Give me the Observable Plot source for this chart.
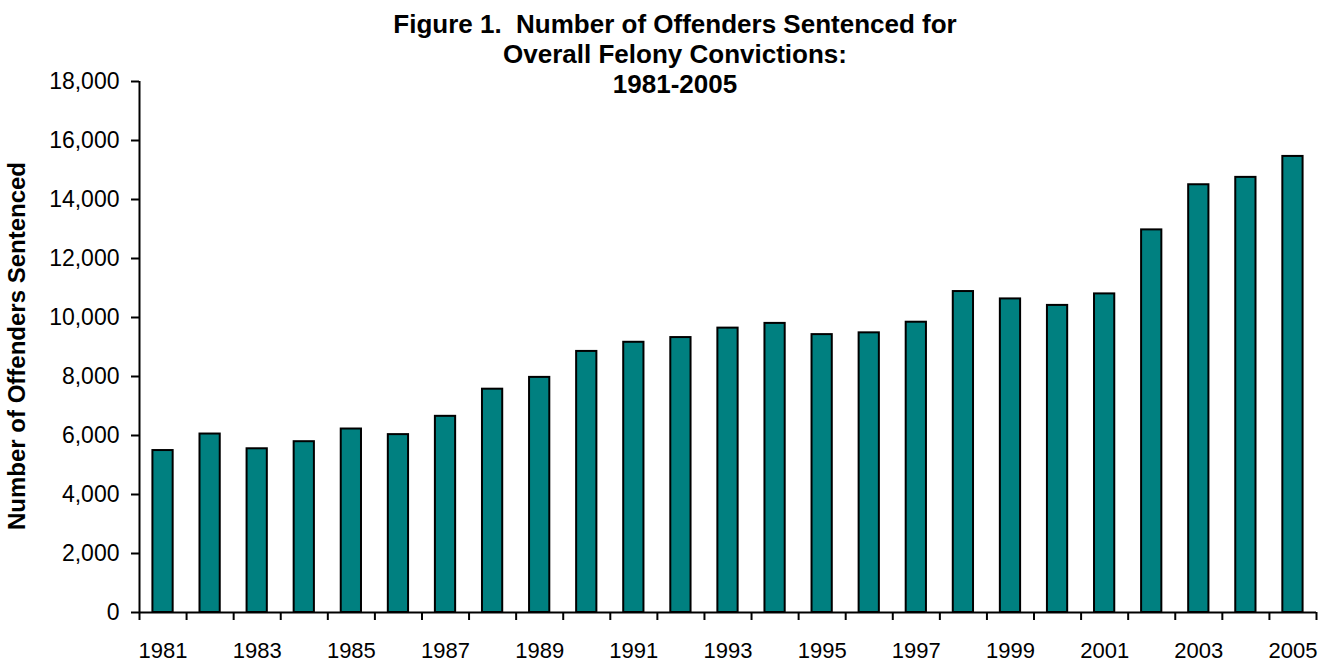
<!DOCTYPE html>
<html><head><meta charset="utf-8">
<script src="https://cdn.jsdelivr.net/npm/d3@7"></script>
<script src="https://cdn.jsdelivr.net/npm/@observablehq/plot@0.6"></script>
<style>
html,body{margin:0;padding:0;background:#fff;}
#wrap{position:relative;width:1320px;height:663px;font-family:"Liberation Sans",Arial,sans-serif;color:#000;}
#title{position:absolute;left:325px;width:700px;top:9px;text-align:center;font-weight:bold;font-size:26px;line-height:30px;}
#ylabel{position:absolute;left:17px;top:346px;transform:translate(-50%,-50%) rotate(-90deg);white-space:nowrap;font-weight:bold;font-size:24px;line-height:24px;}
#chart svg{display:block;}
</style>
</head><body>
<div id="wrap"><div id="chart"></div><div id="title"></div><div id="ylabel"></div></div>
<script>
const titleLines = ["Figure 1.\u00a0 Number of Offenders Sentenced for", "Overall Felony Convictions:", "1981-2005"];
const yLabel = "Number of Offenders Sentenced";
const years = [1981,1982,1983,1984,1985,1986,1987,1988,1989,1990,1991,1992,1993,1994,1995,1996,1997,1998,1999,2000,2001,2002,2003,2004,2005];
const offenders = [5490,6050,5550,5790,6220,6030,6650,7570,7970,8850,9160,9320,9640,9800,9420,9480,9840,10880,10630,10410,10800,12970,14500,14750,15460];
const yTicks = [0,2000,4000,6000,8000,10000,12000,14000,16000,18000];
const xLabelYears = [1981,1983,1985,1987,1989,1991,1993,1995,1997,1999,2001,2003,2005];

const data = years.map((year, i) => ({year, value: offenders[i]}));
const boundaries = [years[0] - 0.5, ...years.map(y => y + 0.5)];
const half = 0.215;

document.getElementById("title").innerHTML = titleLines.map(t => `<div>${t}</div>`).join("");
document.getElementById("ylabel").textContent = yLabel;

const chart = Plot.plot({
  width: 1320, height: 663,
  marginLeft: 139, marginRight: 4, marginTop: 81, marginBottom: 51,
  style: {fontFamily: "'Liberation Sans', Arial, sans-serif", fontSize: "22px", color: "#000", background: "#fff"},
  x: {type: "linear", domain: [boundaries[0], boundaries[boundaries.length - 1]]},
  y: {domain: [0, 18000]},
  marks: [
    Plot.rectY(data, {x1: d => d.year - half, x2: d => d.year + half, y: "value", fill: "#008080", stroke: "#000", strokeWidth: 2}),
    Plot.ruleX([boundaries[0]], {stroke: "#000", strokeWidth: 2}),
    Plot.ruleY([0], {stroke: "#000", strokeWidth: 2}),
    Plot.axisY({ticks: yTicks, tickSize: 8, tickPadding: 12, tickFormat: d3.format(","), strokeWidth: 2, label: null, fontSize: 23}),
    Plot.axisX({ticks: boundaries, tickSize: 8, tickFormat: () => "", strokeWidth: 2, label: null}),
    Plot.axisX({ticks: xLabelYears, tickSize: 0, tickPadding: 30, tickFormat: d => String(d), label: null, fontSize: 22})
  ]
});
document.getElementById("chart").appendChild(chart);
</script>
</body></html>
